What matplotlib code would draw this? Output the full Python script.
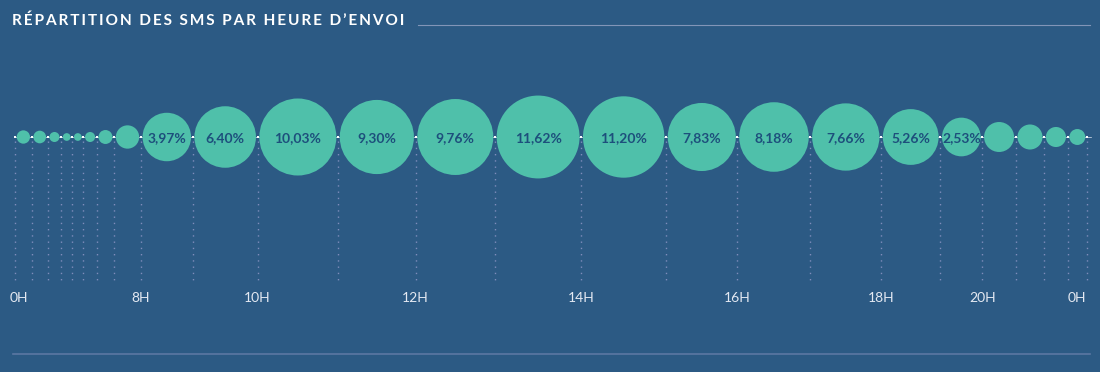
import numpy as np
import matplotlib.pyplot as plt
from matplotlib.patches import Circle

# Données : part des SMS envoyés par tranche horaire (%)
heures = list(range(24))
parts = [0.30, 0.27, 0.17, 0.10, 0.10, 0.17, 0.33, 0.92,
         3.97, 6.40, 10.03, 9.30, 9.76, 11.62, 11.20, 7.83,
         8.18, 7.66, 5.26, 2.53, 1.52, 1.06, 0.68, 0.43]
etiquettes_heures = {0: "0H", 8: "8H", 10: "10H", 12: "12H", 14: "14H",
                     16: "16H", 18: "18H", 20: "20H", 24: "0H"}
titre = "RÉPARTITION DES SMS PAR HEURE D’ENVOI"

# Couleurs
fond = "#2c5a84"
bulle = "#4fc0aa"
texte_bulle = "#1d4f7c"
pointille = "#7f8dbb"

plt.rcParams['font.family'] = ['Lato', 'DejaVu Sans']

fig = plt.figure(figsize=(11, 3.72), dpi=100)
fig.patch.set_facecolor(fond)
ax = fig.add_axes([0, 0, 1, 1])
ax.set_facecolor(fond)
ax.set_xlim(0, 1100)
ax.set_ylim(372, 0)
ax.axis('off')

# Mise en page des bulles : diamètre proportionnel à la racine de la part
x_debut, x_fin, y_axe = 15, 1087, 137
diametres = np.sqrt(parts)
ecart = 3.4
k = (x_fin - x_debut - ecart * len(parts)) / diametres.sum()
diametres = diametres * k
largeurs = diametres + ecart
bornes = x_debut + np.concatenate([[0], np.cumsum(largeurs)])
centres = (bornes[:-1] + bornes[1:]) / 2

# Axe horizontal
ax.plot([bornes[0] - 1, bornes[-1] + 4], [y_axe, y_axe], color="#dfe6f0", lw=0.5, zorder=1)

# Lignes pointillées verticales aux bornes horaires
for xb in bornes:
    ax.plot([xb, xb], [y_axe + 4, 282], color=pointille, lw=1.0,
            linestyle=(0, (1, 3.5)), zorder=1)
    ax.plot(xb, y_axe, 's', color="white", ms=1.8, mew=0, zorder=3)

# Bulles
for c, d, v in zip(centres, diametres, parts):
    ax.add_patch(Circle((c, y_axe), d / 2, color=bulle, zorder=2, lw=0))
    if v > 2.5:
        ax.text(c, y_axe + 1, f"{v:.2f}%".replace(".", ","), ha="center", va="center",
                fontsize=10, fontweight="bold", color=texte_bulle, zorder=4)

# Libellés des heures
for h, lab in etiquettes_heures.items():
    dx = 0
    if h == 0:
        dx = 4
    if h == 24:
        dx = -10
    ax.text(bornes[h] + dx, 298, lab, ha="center", va="center", fontsize=10,
            color="#e4e9f2")

# Titre et filets
titre_espace = "\u2009".join(titre).replace("\u2009 \u2009", "  ")
ax.text(12, 21, titre_espace, ha="left", va="center", fontsize=11.1,
        fontweight="bold", color="white")
ax.plot([418, 1090], [25, 25], color="#8295b8", lw=0.8)
ax.plot([13, 1090], [354, 354], color="#5b78a3", lw=1.2)

fig.savefig("out.png", dpi=100, facecolor=fond)
